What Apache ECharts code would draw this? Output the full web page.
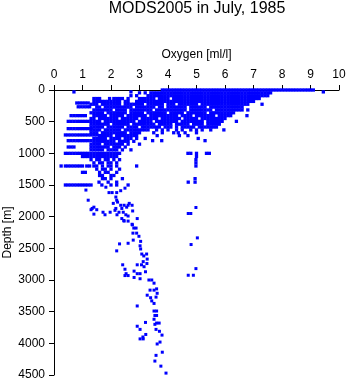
<!DOCTYPE html>
<html>
<head>
<meta charset="utf-8">
<script src="https://cdn.jsdelivr.net/npm/echarts@6/dist/echarts.min.js"></script>
<style>html,body{margin:0;padding:0;background:#fff;}#c{width:348px;height:384px;}</style>
</head>
<body>
<div id="c"></div>
<script>
const titleText = "MODS2005 in July, 1985";
const xName = "Oxygen [ml/l]";
const yName = "Depth [m]";

// Standard-depth rows: depth [m] and the oxygen values [ml/l] read at that depth
const rowDepths = [0, 30, 45, 90, 135, 180, 205, 225, 265, 270, 315, 360, 405, 450, 495, 540, 585, 610, 630, 675, 710, 720, 765, 800, 810, 855, 900, 945, 1000, 1050, 1100, 1150, 1200, 1250, 1300, 1350, 1400, 1455, 1500];
const rowOxygen = [
  [3.8,3.9,4.0,4.1,4.2,4.3,4.4,4.5,4.6,4.7,4.8,4.9,5.0,5.1,5.2,5.3,5.4,5.5,5.6,5.7,5.8,5.9,6.0,6.1,6.2,6.3,6.4,6.5,6.6,6.7,6.8,6.9,7.0,7.1,7.2,7.3,7.4,7.5,7.6,7.7,7.8,7.9,8.0,8.1,8.2,8.3,8.4,8.5,8.6,8.7,8.8,8.9,9.0,9.1],
  [0.7,2.7,9.45],
  [3.0,3.2,3.4,3.5,3.6,3.7,3.8,3.9,4.0,4.1,4.2,4.3,4.4,4.5,4.6,4.7,4.8,4.9,5.0,5.1,5.2,5.3,5.4,5.5,5.6,5.7,5.8,5.9,6.0,6.1,6.2,6.3,6.4,6.5,6.6,6.7,6.8,6.9,7.0,7.1,7.2,7.3,7.4,7.5,7.6],
  [2.7,2.9,3.3,3.4,3.5,3.6,3.7,3.8,3.9,4.0,4.1,4.2,4.3,4.4,4.5,4.6,4.7,4.8,4.9,5.0,5.1,5.2,5.3,5.4,5.5,5.6,5.7,5.8,5.9,6.0,6.1,6.2,6.3,6.4,6.5,6.6,6.7,6.8,6.9,7.0,7.1,7.2,7.3,7.4,7.5],
  [1.4,1.5,1.6,1.95,2.1,2.2,2.3,2.4,2.6,3.0,3.1,3.2,3.3,3.4,3.5,3.7,3.8,3.9,4.0,4.2,4.3,4.4,4.5,4.6,4.7,4.8,4.9,5.0,5.1,5.2,5.3,5.4,5.5,5.6,5.7,5.8,5.9,6.0,6.1,6.2,6.3,6.4,6.5,6.6,6.7,6.8,6.9,7.0,7.1,7.2],
  [1.4,1.5,1.6,1.7,1.8,1.9,2.0,2.1,2.2,2.3,2.5,2.6,2.9,3.0,3.1,3.2,3.3,3.4,3.5,3.6,3.7,3.8,3.9,4.0,4.1,4.2,4.3,4.4,4.5,4.6,4.7,4.8,4.9,5.0,5.1,5.2,5.3,5.4,5.5,5.6,5.7,5.8,5.9,6.0,6.1,6.2,6.3,6.4,6.5,6.6,6.7,6.8,6.9,7.0],
  [0.8,0.9,1.0,1.1,1.2],
  [1.3,1.4,1.5,1.7,1.8,1.9,2.0,2.1,2.2,2.3,2.5,2.6,2.7,2.8,2.9,3.0,3.1,3.3,3.4,3.5,3.6,3.7,3.8,4.0,4.1,4.2,4.4,4.5,4.6,4.7,4.8,4.9,5.0,5.2,5.3,5.4,5.5,5.6,5.7,5.8,5.9,6.0,6.1,6.2,6.3,6.4,6.5,6.6,6.7,6.8,7.3],
  [0.85,0.95,1.05,1.15,1.25],
  [1.5,1.6,1.8,1.9,2.0,2.1,2.2,2.3,2.4,2.5,2.6,2.7,2.9,3.0,3.1,3.2,3.3,3.4,3.5,3.7,3.8,4.0,4.1,4.2,4.3,4.4,4.5,4.6,4.8,4.9,5.0,5.1,5.2,5.3,5.5,5.6,5.7,5.8,5.9,6.0,6.1,6.2,6.3,6.4,6.5,6.6],
  [1.4,1.5,1.6,1.7,1.8,1.9,2.0,2.2,2.3,2.4,2.5,2.7,2.8,2.9,3.0,3.1,3.2,3.3,3.4,3.6,3.7,3.8,3.9,4.0,4.1,4.2,4.3,4.4,4.5,4.6,4.8,4.9,5.0,5.1,5.2,5.3,5.4,5.5,5.7,5.8,5.9,6.0,6.1,6.2,6.3,6.4,6.5,6.6,6.8],
  [1.3,1.4,1.5,1.6,1.7,1.9,2.0,2.1,2.2,2.3,2.4,2.5,2.7,2.8,2.9,3.0,3.1,3.3,3.4,3.5,3.6,3.7,3.8,3.9,4.1,4.2,4.3,4.4,4.5,4.7,4.8,4.9,5.0,5.1,5.2,5.3,5.5,5.6,5.7,5.8,5.9,6.0,6.1,6.2,6.3],
  [0.6,0.7,0.8,0.9,1.0,1.1,1.4,1.5,1.6,1.7,1.8,2.0,2.1,2.2,2.3,2.4,2.6,2.7,2.8,2.9,3.0,3.1,3.2,3.4,3.5,3.6,3.7,3.8,3.9,4.0,4.1,4.2,4.3,4.5,4.6,4.7,4.8,5.0,5.1,5.2,5.3,5.4,5.5,5.6,5.8,5.9,6.0,6.1,6.2,6.77],
  [1.3,1.4,1.6,1.7,1.8,1.9,2.0,2.1,2.2,2.4,2.5,2.6,2.7,2.8,2.9,3.1,3.2,3.3,3.4,3.5,3.6,3.8,3.9,4.0,4.1,4.2,4.3,4.4,4.6,4.7,4.8,4.9,5.0,5.2,5.3,5.4,5.5,5.6,5.7,5.8,5.9,6.0],
  [0.5,0.6,0.7,0.8,0.9,1.0,1.1,1.2,1.3,1.4,1.5,1.6,1.8,1.9,2.0,2.1,2.2,2.3,2.4,2.5,2.6,2.7,2.8,3.0,3.1,3.2,3.3,3.4,3.6,3.7,3.8,3.9,4.0,4.1,4.2,4.3,4.5,4.6,4.7,4.8,4.9,5.0,5.1,5.2,5.4,5.5,5.6,5.7,5.8,5.9,6.4],
  [1.3,1.4,1.5,1.6,1.7,1.8,1.9,2.1,2.2,2.3,2.4,2.5,2.6,2.8,2.9,3.0,3.1,3.2,3.3,3.4,3.5,3.7,3.8,3.9,4.0,4.1,4.3,4.4,4.5,4.6,4.7,4.9,5.0,5.1,5.2,5.4,5.5,5.6,5.7,5.8],
  [1.3,1.4,1.5,1.6,1.7,1.9,2.0,2.1,2.2,2.3,2.4,2.6,2.7,2.8,2.9,3.1,3.2,3.3,3.4,3.5,3.6,3.7,3.9,4.0,4.1,4.3,4.5,4.6,4.7,4.8,4.9,5.1,5.2,5.3,5.4,5.5,5.6,5.7],
  [0.5,0.6,0.7,0.8,0.9,1.0,1.1,1.2,1.3],
  [1.3,1.4,1.5,1.6,1.8,1.9,2.0,2.1,2.2,2.3,2.5,2.6,2.7,2.8,2.9,3.0,3.1,3.2,3.3,3.6,3.8,4.0,4.3,4.5,4.8,5.0,5.2,5.5,5.96],
  [1.3,1.4,1.5,1.7,1.8,1.9,2.0,2.1,2.2,2.3,2.4,2.5,2.7,2.8,2.9,3.0,3.5,3.8,4.2,4.36,4.6,5.0],
  [0.4,0.5,0.6,0.7,0.8,0.9,1.0,1.1,1.2,1.3,1.4,1.5],
  [1.6,1.7,1.8,1.9,2.0,2.2,2.3,2.4,2.5,2.6,2.7,2.8,2.9,3.62,4.4,4.7],
  [1.4,1.5,1.6,1.7,1.8,2.0,2.1,2.2,2.3,2.5,2.6,2.7,2.9,3.2,5.06],
  [0.5,0.6,0.7,0.8,0.9,1.0,1.1,1.2,1.3,3.46,3.78,5.3],
  [1.4,1.5,1.6,1.7,1.8,1.9,2.0,2.1,2.3,2.4,2.5,2.6,2.8],
  [1.3,1.4,1.5,1.6,1.8,1.9,2.0,2.1,2.2,2.3,2.4,2.6,3.0],
  [0.5,0.6,0.7,1.3,1.4,1.5,1.6,1.7,1.8,1.9,2.1,2.2,2.3,2.5],
  [1.3,1.4,1.5,1.6,1.7,1.9,2.0,2.1,2.2,2.4,2.7],
  [0.4,0.5,0.6,0.7,0.8,0.9,1.0,1.1,1.2,1.3,1.4,1.5,1.6,1.7,1.8,1.9,2.0,2.1,2.2,2.3,4.7,4.8,5.0,5.35,5.45],
  [1.0,1.1,1.2,1.3,1.4,1.5,1.6,1.7,1.8,1.9,2.0,2.1,2.2,5.0],
  [1.3,1.5,1.6,1.8,1.9,2.1,2.3,4.98],
  [1.4,1.6,1.7,1.9,2.0,2.2,4.98],
  [0.25,0.4,0.5,0.6,0.7,0.8,0.9,1.0,1.15,1.25,1.4,1.5,1.7,1.9,2.0,2.2,2.9,4.98],
  [1.5,1.7,1.8,2.0,2.3],
  [1.0,1.1,1.6,1.8,1.9,2.2],
  [1.6,1.7,2.0,2.1],
  [1.7,1.8,2.0,2.4,4.95],
  [1.58,1.9,2.2,4.71,4.95],
  [0.4,0.5,0.6,0.7,0.8,0.9,1.0,1.1,1.2,1.3,1.68,2.0,2.2,2.6]
];

// Individual deeper observations
const deepDepths = [1535,1550,1580,1590,1620,1620,1620,1690,1740,1740,1770,1790,1790,1820,1820,1820,1820,1850,1850,1855,1870,1870,1870,1890,1890,1900,1930,1930,1930,1930,1910,1950,1950,1960,1970,1970,1970,1990,2030,2030,2060,2070,2070,2120,2130,2180,2180,2260,2260,2310,2335,2370,2390,2420,2430,2440,2460,2510,2540,2590,2590,2620,2670,2710,2740,2760,2760,2760,2790,2820,2830,2860,2870,2900,2900,2900,2925,2925,2930,2930,2960,2980,3000,3000,3050,3140,3160,3160,3210,3240,3270,3280,3330,3370,3410,3490,3490,3560,3560,3620,3670,3680,3680,3700,3730,3780,3780,3810,3860,3870,3900,3930,3930,3980,4010,4140,4190,4280,4360,4470];
const deepOxygen = [1.82,2.49,1.12,2.34,1.93,2.04,2.2,2.17,1.2,2.2,2.23,2.08,2.64,2.34,2.46,2.6,2.74,1.4,2.55,4.98,1.34,2.17,2.38,1.3,1.5,2.14,1.72,1.97,2.28,2.43,2.76,4.71,4.8,1.4,1.79,2.21,2.52,2.6,2.38,2.92,2.45,2.46,2.6,2.74,2.75,2.8,2.88,2.77,2.9,2.98,5.03,2.78,3.04,2.6,2.3,4.81,3.02,3.04,2.2,3.08,3.25,3.15,3.27,3.13,3.26,2.41,2.92,3.07,3.16,4.98,2.49,2.81,3.21,2.53,2.92,3.02,4.71,4.89,2.49,2.6,2.81,3.02,3.33,3.43,3.51,3.6,3.37,3.51,3.62,3.27,3.58,3.39,3.43,3.51,2.92,3.51,3.6,3.54,3.6,3.51,3.21,3.6,3.69,3.54,2.92,3.02,3.58,3.7,3.22,3.79,3.12,3.02,3.13,3.72,3.62,3.8,3.58,3.54,3.75,3.93];

const oxygenTicks = [0,1,2,3,4,5,6,7,8,9,10];
const depthTicks = [0,500,1000,1500,2000,2500,3000,3500,4000,4500];

const rowPoints = [];
rowDepths.forEach((d, i) => rowOxygen[i].forEach(o => rowPoints.push([o, d])));
const deepPoints = deepDepths.map((d, i) => [deepOxygen[i], d]);

const chart = echarts.init(document.getElementById('c'), null, {renderer: 'canvas'});
const font = 'Liberation Sans, Arial, Helvetica, sans-serif';
chart.setOption({
  animation: false,
  backgroundColor: '#ffffff',
  title: {
    text: titleText, left: 197, top: 1, textAlign: 'center', padding: 0,
    textStyle: {fontFamily: font, fontSize: 16, fontWeight: 'normal', color: '#000'}
  },
  grid: {left: 54, right: 9, top: 90, bottom: 9, containLabel: false, outerBoundsMode: 'none'},
  xAxis: {
    type: 'value', position: 'top', min: oxygenTicks[0], max: oxygenTicks[oxygenTicks.length-1], interval: 1,
    name: xName, nameLocation: 'middle', nameGap: 29, nameMoveOverlap: false,
    nameTextStyle: {fontFamily: font, fontSize: 12, color: '#000'},
    axisLine: {show: true, onZero: false, lineStyle: {color: '#000', width: 1}},
    axisTick: {show: true, inside: false, length: 5, lineStyle: {color: '#000'}},
    axisLabel: {fontFamily: font, fontSize: 12, color: '#000', margin: 9, formatter: v => String(v)},
    splitLine: {show: false}
  },
  yAxis: {
    type: 'value', inverse: true, min: depthTicks[0], max: depthTicks[depthTicks.length-1], interval: 500,
    name: yName, nameLocation: 'middle', nameGap: 40, nameRotate: 90, nameMoveOverlap: false,
    nameTextStyle: {fontFamily: font, fontSize: 12, color: '#000'},
    axisLine: {show: true, onZero: false, lineStyle: {color: '#000', width: 1}},
    axisTick: {show: true, inside: false, length: 5, lineStyle: {color: '#000'}},
    axisLabel: {fontFamily: font, fontSize: 12, color: '#000', margin: 9, formatter: v => String(v)},
    splitLine: {show: false}
  },
  series: [{
    type: 'scatter', data: rowPoints, symbol: 'rect', symbolSize: 3.3,
    itemStyle: {color: '#0000ff', opacity: 1}, clip: false, silent: true
  }, {
    type: 'scatter', data: deepPoints, symbol: 'rect', symbolSize: 3,
    itemStyle: {color: '#0000ff', opacity: 1}, clip: false, silent: true
  }]
});
</script>
</body>
</html>
